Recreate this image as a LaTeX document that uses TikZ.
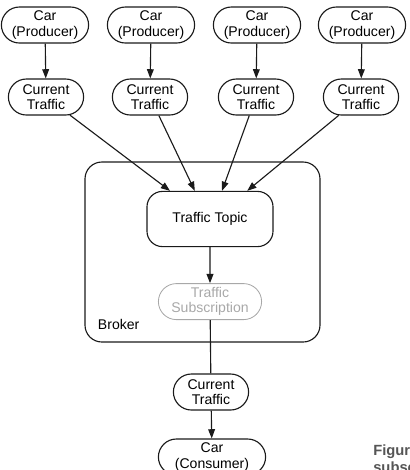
\documentclass[tikz,border=0pt]{standalone}
\usepackage{fontspec}
\setmainfont{Liberation Sans}
\usepackage{tikz}
\usetikzlibrary{arrows.meta,positioning,shapes.misc}
\definecolor{Ink}{HTML}{1A1A1A}
\definecolor{Faded}{HTML}{A8A8A8}
\definecolor{Caption}{HTML}{555555}
\tikzset{pill/.style={rounded rectangle,draw=Ink,line width=.8pt,align=center,inner sep=1pt,minimum height=.9cm,font=\fontsize{10}{10.8}\selectfont},topicbox/.style={rounded corners=11pt,draw=Ink,line width=.8pt,align=center,minimum width=3.15cm,minimum height=1.38cm,font=\fontsize{10}{10.8}\selectfont},faded/.style={pill,draw=Faded,text=Faded,line width=.6pt},flow/.style={-{Triangle[length=2.3mm,width=1.7mm]},line width=.8pt,draw=Ink}}

\begin{document}
\begin{tikzpicture}[x=.025cm,y=-.025cm,node distance=.75cm]
      \useasboundingbox (0,0) rectangle (410,470);
      \draw[rounded corners=12pt,line width=.8pt,draw=Ink](85,162) rectangle (320,342);
      \node[anchor=west,font=\fontsize{10}{10.8}\selectfont] (brk) at (93,324) {Broker};
      \node[pill,minimum width=2.25cm](p1) at (45,25){Car\\(Producer)};
      \node[pill,minimum width=2.25cm](p2) at (151,25){Car\\(Producer)};
      \node[pill,minimum width=2.25cm](p3) at (257,25){Car\\(Producer)};
      \node[pill,minimum width=2.25cm](p4) at (362,25){Car\\(Producer)};
      \node[pill,minimum width=1.95cm](c1) at (46,97){Current\\Traffic};
      \node[pill,minimum width=1.95cm](c2) at (150,97){Current\\Traffic};
      \node[pill,minimum width=1.95cm](c3) at (256,97){Current\\Traffic};
      \node[pill,minimum width=1.95cm](c4) at (361,97){Current\\Traffic};
      \node[topicbox](topic) at (210,219){Traffic Topic};
      \node[faded,minimum width=2.65cm,below=.9cm of topic](sub){Traffic\\Subscription};
      \node[pill,minimum width=1.95cm](ct) at (211,392){Current\\Traffic};
      \node[pill,minimum width=2.75cm](cons) at (212,457){Car\\(Consumer)};
      \node[anchor=base west,align=left,inner sep=0pt,text=Caption,font=\fontsize{10.5}{11.8}\selectfont\bfseries](cap) at (373,472){Figure\\subscription};
      \draw[flow](p1)--(c1);\draw[flow](p2)--(c2);\draw[flow](p3)--(c3);\draw[flow](p4)--(c4);
      \draw[flow](c1)--([xshift=-1cm]topic.north);\draw[flow](c2)--([xshift=-.38cm]topic.north);
      \draw[flow](c3)--([xshift=.3cm]topic.north);\draw[flow](c4)--([xshift=.93cm]topic.north);
      \draw[flow](topic)--(sub);
      \draw[line width=.8pt,draw=Ink](sub)--(ct);
      \draw[flow](ct)--(cons);
    \end{tikzpicture}
\end{document}
